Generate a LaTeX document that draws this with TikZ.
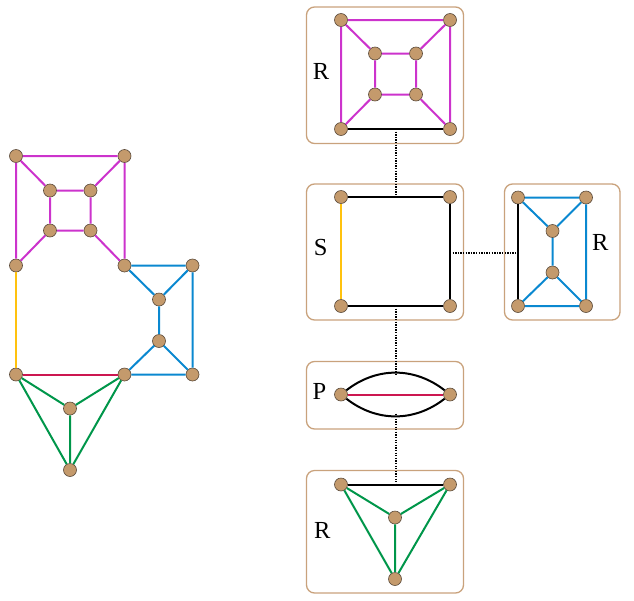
\documentclass[tikz,border=0pt]{standalone}
\usepackage{fontspec}
\setmainfont{Liberation Serif}
\definecolor{vfill}{HTML}{C49A6C}
\definecolor{vdraw}{HTML}{5A4A3A}
\definecolor{boxc}{HTML}{C9A27C}
\definecolor{mag}{HTML}{CC33CC}
\definecolor{blu}{HTML}{0A88D0}
\definecolor{grn}{HTML}{00964A}
\definecolor{yel}{HTML}{FFC20E}
\definecolor{redc}{HTML}{CC1650}
\tikzset{
  v/.style={circle,fill=vfill,draw=vdraw,line width=0.6pt,minimum size=13pt,inner sep=0pt},
  me/.style={mag,line width=2pt},
  be/.style={blu,line width=2pt},
  ge/.style={grn,line width=2pt},
  ye/.style={yel,line width=2pt},
  re/.style={redc,line width=2pt},
  ke/.style={black,line width=2pt},
  tbox/.style={draw=boxc,line width=1.3pt,rounded corners=8pt},
  tlink/.style={black,line width=2pt,dash pattern=on 1.3pt off 1.3pt},
  lab/.style={font=\fontsize{24.5}{28}\selectfont,inner sep=0pt,anchor=base}
}
\begin{document}
\begin{tikzpicture}[x=1pt,y=-1pt]
\useasboundingbox (0,0) rectangle (634,600);
% ---------- left graph ----------
\node[v] (a1) at (16,156) {};
\node[v] (a2) at (124.5,156) {};
\node[v] (a3) at (50,190.5) {};
\node[v] (a4) at (90.5,190.5) {};
\node[v] (a5) at (50,230.5) {};
\node[v] (a6) at (90.5,230.5) {};
\node[v] (a7) at (16,265.5) {};
\node[v] (a8) at (124.5,265.5) {};
\node[v] (b1) at (192.5,265.5) {};
\node[v] (b2) at (159,299.5) {};
\node[v] (b3) at (159,341) {};
\node[v] (b4) at (192.5,374.5) {};
\node[v] (c1) at (16,374.5) {};
\node[v] (c2) at (124.5,374.5) {};
\node[v] (c3) at (70,408.5) {};
\node[v] (c4) at (70,470) {};
\draw[me] (a1)--(a2) (a1)--(a3) (a2)--(a4) (a3)--(a4) (a3)--(a5) (a4)--(a6) (a5)--(a6) (a5)--(a7) (a6)--(a8) (a1)--(a7) (a2)--(a8);
\draw[be] (a8)--(b1) (a8)--(b2) (b1)--(b2) (b2)--(b3) (b3)--(c2) (b3)--(b4) (b1)--(b4) (c2)--(b4);
\draw[ye] (a7)--(c1);
\draw[re] (c1)--(c2);
\draw[ge] (c1)--(c3) (c2)--(c3) (c3)--(c4) (c1)--(c4) (c2)--(c4);
% ---------- tree: boxes ----------
\draw[tbox] (306.5,7) rectangle (463.5,143.5);
\draw[tbox] (306.5,184) rectangle (463.5,320);
\draw[tbox] (504.5,184) rectangle (620,320);
\draw[tbox] (306.5,361.5) rectangle (463.5,429);
\draw[tbox] (306.5,470.5) rectangle (463.5,593);
% ---------- R1 ----------
\node[v] (r1) at (341,20) {};
\node[v] (r2) at (450,20) {};
\node[v] (r3) at (375,53.5) {};
\node[v] (r4) at (416,53.5) {};
\node[v] (r5) at (375,94.5) {};
\node[v] (r6) at (416,94.5) {};
\node[v] (r7) at (341,129) {};
\node[v] (r8) at (450,129) {};
\draw[me] (r1)--(r2) (r1)--(r3) (r2)--(r4) (r3)--(r4) (r3)--(r5) (r4)--(r6) (r5)--(r6) (r5)--(r7) (r6)--(r8) (r1)--(r7) (r2)--(r8);
\draw[ke] (r7)--(r8);
\node[lab] (lr1) at (321,79.3) {R};
% ---------- S ----------
\node[v] (s1) at (341,197) {};
\node[v] (s2) at (450,197) {};
\node[v] (s3) at (341,306) {};
\node[v] (s4) at (450,306) {};
\draw[ke] (s1)--(s2) (s2)--(s4) (s3)--(s4);
\draw[ye] (s1)--(s3);
\node[lab] (ls) at (320.7,255.2) {S};
% ---------- R2 ----------
\node[v] (q1) at (518,197.5) {};
\node[v] (q2) at (586,197.5) {};
\node[v] (q3) at (552.5,231) {};
\node[v] (q4) at (552.5,272.5) {};
\node[v] (q5) at (518,306) {};
\node[v] (q6) at (586,306) {};
\draw[be] (q1)--(q2) (q1)--(q3) (q2)--(q3) (q3)--(q4) (q4)--(q5) (q4)--(q6) (q5)--(q6) (q2)--(q6);
\draw[ke] (q1)--(q5);
\node[lab] (lr2) at (600.3,250.7) {R};
% ---------- P ----------
\node[v] (p1) at (341,394.5) {};
\node[v] (p2) at (450,394.5) {};
\draw[ke] (p1) to[out=38,in=142] (p2);
\draw[ke] (p1) to[out=-38,in=-142] (p2);
\draw[re] (p1)--(p2);
\node[lab] (lp) at (319.5,399.3) {P};
% ---------- R3 ----------
\node[v] (t1) at (341,484.5) {};
\node[v] (t2) at (450,484.5) {};
\node[v] (t3) at (395,517.5) {};
\node[v] (t4) at (395,579) {};
\draw[ge] (t1)--(t3) (t2)--(t3) (t3)--(t4) (t1)--(t4) (t2)--(t4);
\draw[ke] (t1)--(t2);
\node[lab] (lr3) at (322.3,538.3) {R};
% ---------- tree links ----------
\coordinate (k1) at (395.5,129);
\coordinate (k2) at (395.5,197);
\coordinate (k3) at (395.5,306);
\coordinate (k4) at (395.5,375.5);
\coordinate (k5) at (395.5,413.5);
\coordinate (k6) at (395.5,484.5);
\coordinate (k7) at (450,252.5);
\coordinate (k8) at (518,252.5);
\draw[tlink] (k1)--(k2);
\draw[tlink] (k3)--(k4);
\draw[tlink] (k5)--(k6);
\draw[tlink] (k7)--(k8);
\end{tikzpicture}
\end{document}
